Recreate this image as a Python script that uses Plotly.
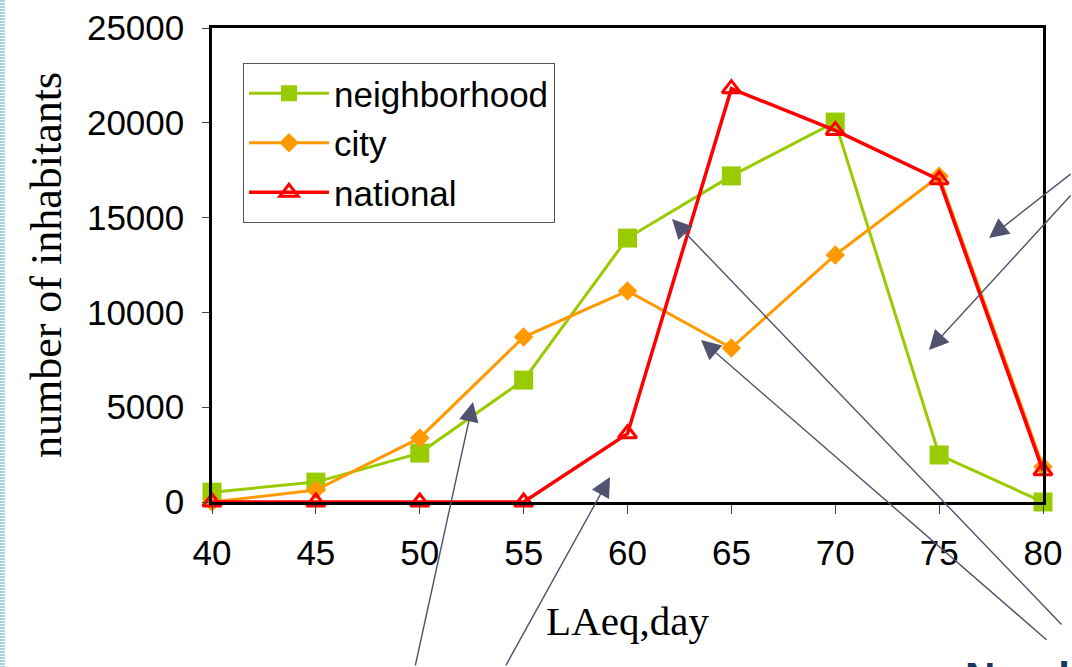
import plotly.graph_objects as go

# ---- data ----
laeq = [40, 45, 50, 55, 60, 65, 70, 75, 80]
neighborhood = [520, 1050, 2580, 6430, 13920, 17200, 20040, 2480, 0]
city = [0, 630, 3380, 8700, 11130, 8120, 13030, 17180, 1860]
national = [0, 0, 0, 0, 3600, 21800, 19600, 17000, 1650]
x_ticks = [40, 45, 50, 55, 60, 65, 70, 75, 80]
y_ticks = [0, 5000, 10000, 15000, 20000, 25000]

W, H = 1072, 667
L, R, T, B = 212, 1043, 28, 502   # plot area in pixels

def paper(px, py):
    return ((px - L) / (R - L), (B - py) / (B - T))

fig = go.Figure()
fig.add_trace(go.Scatter(
    x=laeq, y=neighborhood, name="neighborhood", mode="lines+markers",
    line=dict(color="#99CC00", width=3),
    marker=dict(symbol="square", size=19, color="#99CC00"),
    cliponaxis=False, legendgroup="a"))
fig.add_trace(go.Scatter(
    x=laeq, y=city, name="city", mode="lines+markers",
    line=dict(color="#FF9900", width=3),
    marker=dict(symbol="diamond", size=15, color="#FF9900"),
    cliponaxis=False, legendgroup="b"))
fig.add_trace(go.Scatter(
    x=laeq, y=national, name="national", mode="lines+markers",
    line=dict(color="#FF0000", width=3.5),
    marker=dict(symbol="triangle-up-open", size=16, color="#FF0000",
                line=dict(color="#FF0000", width=3)),
    cliponaxis=False, legendgroup="c"))

# decorative arrows (tail pixel -> head pixel)
arrows = [
    ((415, 667), (473, 402)),
    ((505, 667), (610, 477)),
    ((1072, 173), (989, 238)),
    ((1072, 194), (929, 350)),
    ((1063, 626), (672, 219)),
    ((1048, 641), (701, 340)),
]
for (tx, ty), (hx, hy) in arrows:
    px, py = paper(hx, hy)
    fig.add_annotation(
        x=px, y=py, xref="paper", yref="paper",
        ax=tx - hx, ay=ty - hy, axref="pixel", ayref="pixel",
        showarrow=True, arrowhead=2, arrowsize=2.8, arrowwidth=1.4,
        arrowcolor="#50526F", text="", standoff=0)

# cut-off slide text at bottom right
nx, ny = paper(963, 652)
fig.add_annotation(x=nx, y=ny, xref="paper", yref="paper",
                   xanchor="left", yanchor="top", showarrow=False,
                   text="<b>Number</b>", font=dict(family="Liberation Sans", size=42, color="#17375E"))

# left decorative stripe
sx0, sy0 = paper(2.5, 0)
sx1, sy1 = paper(2.5, H)
fig.add_shape(type="line", xref="paper", yref="paper",
              x0=sx0, x1=sx1, y0=sy0, y1=sy1,
              line=dict(color="#A9CFE2", width=5, dash="2px,1px"), layer="above")

fig.update_xaxes(
    range=[40, 80], tickvals=x_ticks, ticktext=[str(v) for v in x_ticks],
    showline=True, linecolor="black", linewidth=2.5, mirror=True,
    ticks="outside", ticklen=9, tickwidth=1, tickcolor="#444",
    showgrid=False, zeroline=False,
    tickfont=dict(family="Liberation Sans", size=35, color="black"),
    ticklabelstandoff=9,
    title=dict(text="LAeq,day", font=dict(family="Liberation Serif", size=41, color="black"), standoff=36))
fig.update_yaxes(
    range=[0, 25000], tickvals=y_ticks, ticktext=[str(v) for v in y_ticks],
    showline=True, linecolor="black", linewidth=2.5, mirror=True,
    ticks="outside", ticklen=7, tickwidth=1, tickcolor="#444",
    showgrid=False, zeroline=False,
    tickfont=dict(family="Liberation Sans", size=35, color="black"),
    ticklabelstandoff=11,
    title=dict(text="number of inhabitants", font=dict(family="Liberation Serif", size=44, color="black"), standoff=12))

lx, ly = paper(243, 63)
fig.update_layout(
    width=W, height=H,
    margin=dict(l=L, r=W - R, t=T, b=H - B, autoexpand=False),
    paper_bgcolor="white", plot_bgcolor="white",
    showlegend=True,
    legend=dict(x=lx, y=ly, xanchor="left", yanchor="top",
                bgcolor="white", bordercolor="#555", borderwidth=1,
                font=dict(family="Liberation Sans", size=35, color="black"),
                tracegroupgap=1, itemwidth=80),
)

fig.write_html("out.html", config={"displayModeBar": False},
               post_script="document.body.style.margin='0';document.body.style.overflow='hidden';")
